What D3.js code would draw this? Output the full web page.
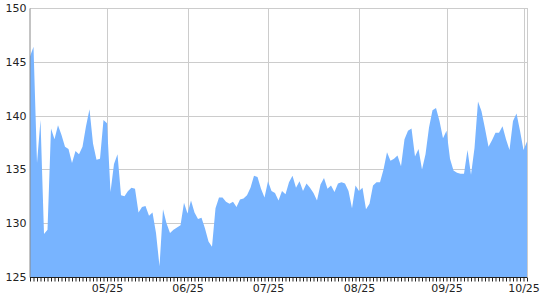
<!DOCTYPE html>
<html>
<head>
<meta charset="UTF-8" />
<script src="https://d3js.org/d3.v7.min.js"></script>
<style>
    body { margin: 0; background: #fff; }
    text { font-family: "DejaVu Sans", sans-serif; fill: #222; }
</style>
</head>
<body>
<svg id="chart" width="540" height="300"></svg>
<script>
// daily values, one per trading day
var values = [
    145.5, 146.4, 135.6, 139.6, 129.0, 129.4, 138.8, 137.8, 139.1, 138.2,
    137.1, 136.9, 135.6, 136.7, 136.4, 137.1, 139.0, 140.6, 137.4, 135.9,
    136.0, 139.6, 139.3, 132.9, 135.5, 136.4, 132.6, 132.5, 133.0, 133.3,
    133.2, 131.0, 131.5, 131.6, 130.7, 131.0, 129.1, 126.0, 131.3, 130.0,
    129.1, 129.4, 129.6, 129.8, 131.9, 130.9, 132.1, 131.0, 130.4, 130.5,
    129.5, 128.3, 127.8, 131.4, 132.4, 132.4, 132.0, 131.8, 132.0, 131.5,
    132.2, 132.3, 132.6, 133.3, 134.4, 134.3, 133.2, 132.4, 133.9, 133.0,
    132.8, 132.1, 133.0, 132.7, 133.8, 134.4, 133.3, 133.9, 133.0, 133.7,
    133.3, 132.8, 132.1, 133.6, 134.2, 133.2, 133.5, 132.9, 133.7, 133.8,
    133.7, 133.0, 131.4, 133.5, 133.0, 133.3, 131.3, 131.8, 133.5, 133.8,
    133.8, 135.0, 136.6, 135.8, 136.0, 136.3, 135.3, 137.8, 138.6, 138.8,
    136.2, 136.9, 135.0, 136.4, 138.9, 140.5, 140.7, 139.5, 137.9, 138.6,
    136.0, 134.9, 134.7, 134.6, 134.6, 136.8, 134.5, 137.0, 141.3, 140.4,
    138.8, 137.1, 137.7, 138.4, 138.4, 139.0, 137.8, 136.8, 139.5, 140.2,
    138.6, 136.8, 137.6
];
var monthLabels = ["05/25", "06/25", "07/25", "08/25", "09/25", "10/25"];
var monthIndex = [22, 45, 68, 94, 119, 141];
var yTicks = [125, 130, 135, 140, 145, 150];

var svg = d3.select("#chart");
var plotLeft = 30, plotRight = 527, plotTop = 8, plotBottom = 277;

var x = d3.scaleLinear().domain([0, values.length - 1]).range([plotLeft, plotRight]);
var y = d3.scaleLinear().domain([125, 150]).range([plotBottom, plotTop]);

// grid
svg.append("g").selectAll("line").data(yTicks).enter().append("line")
    .attr("x1", plotLeft).attr("x2", plotRight)
    .attr("y1", function (d) { return Math.round(y(d)) + 0.5; })
    .attr("y2", function (d) { return Math.round(y(d)) + 0.5; })
    .attr("stroke", "#cccccc");
svg.append("g").selectAll("line").data(monthIndex).enter().append("line")
    .attr("x1", function (d) { return Math.round(x(d)) + 0.5; })
    .attr("x2", function (d) { return Math.round(x(d)) + 0.5; })
    .attr("y1", plotTop).attr("y2", plotBottom)
    .attr("stroke", "#cccccc");
svg.append("line").attr("x1", plotRight + 0.5).attr("x2", plotRight + 0.5)
    .attr("y1", plotTop).attr("y2", plotBottom).attr("stroke", "#cccccc");

// area
var area = d3.area()
    .x(function (d, i) { return x(i); })
    .y0(y(125))
    .y1(function (d) { return y(d); });
svg.append("path").datum(values).attr("d", area).attr("fill", "#78b4ff");

// left axis
var yAxis = svg.append("g").attr("transform", "translate(" + (plotLeft - 0.5) + ",0)")
    .call(d3.axisLeft(y).tickValues(yTicks).tickSize(0).tickPadding(3));
yAxis.select(".domain").attr("stroke", "#888");
yAxis.selectAll("text").style("font-size", "11px");

// bottom axis: minor ticks for each day
var xMinor = svg.append("g").attr("transform", "translate(0," + (plotBottom + 0.5) + ")")
    .call(d3.axisBottom(x).tickValues(d3.range(values.length)).tickSize(4).tickFormat(""));
xMinor.select(".domain").attr("stroke", "#222").attr("d", "M" + plotLeft + ",0H" + plotRight);
xMinor.selectAll(".tick line").attr("stroke", "#222");

var xMajor = svg.append("g").attr("transform", "translate(0," + (plotBottom + 0.5) + ")")
    .call(d3.axisBottom(x).tickValues(monthIndex).tickSize(0).tickPadding(7)
        .tickFormat(function (d, i) { return monthLabels[i]; }));
xMajor.select(".domain").remove();
xMajor.selectAll("text").style("font-size", "11px");
</script>
</body>
</html>
